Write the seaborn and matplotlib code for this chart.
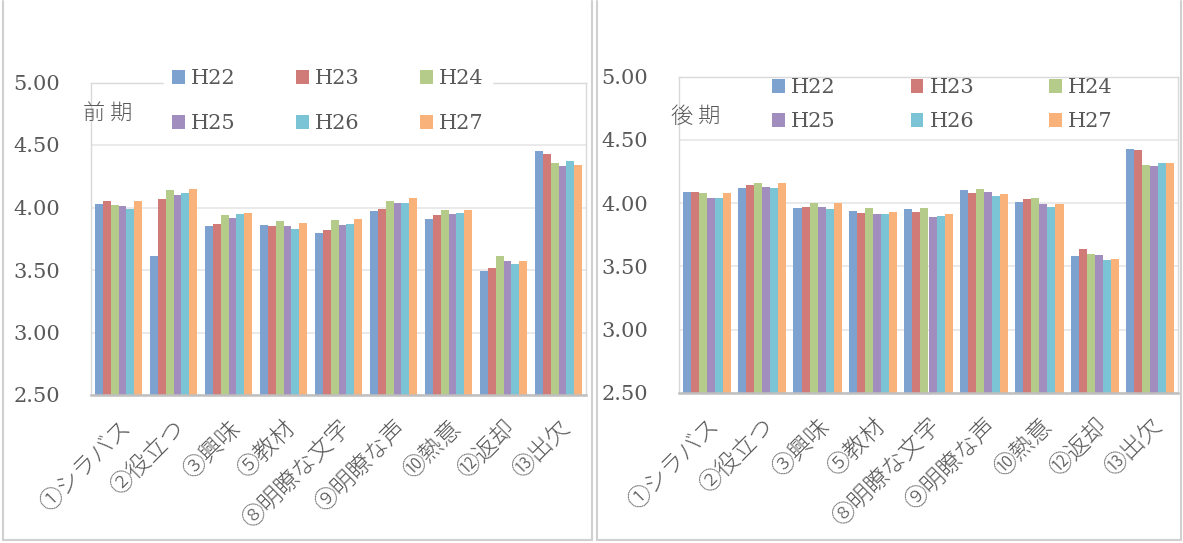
import numpy as np
import pandas as pd
import matplotlib
matplotlib.use("Agg")
import matplotlib.pyplot as plt
from matplotlib.lines import Line2D
import seaborn as sns

# ---- data -------------------------------------------------------------
categories = ["①シラバス", "②役立つ", "③興味", "⑤教材", "⑧明瞭な文字",
              "⑨明瞭な声", "⑩熱意", "⑫返却", "⑬出欠"]
years = ["H22", "H23", "H24", "H25", "H26", "H27"]

# 前期 (first semester)
zenki_h22 = [4.03, 3.61, 3.85, 3.86, 3.80, 3.97, 3.91, 3.49, 4.45]
zenki_h23 = [4.05, 4.07, 3.87, 3.85, 3.82, 3.99, 3.94, 3.52, 4.43]
zenki_h24 = [4.02, 4.14, 3.94, 3.89, 3.90, 4.05, 3.98, 3.61, 4.36]
zenki_h25 = [4.01, 4.10, 3.92, 3.85, 3.86, 4.04, 3.95, 3.57, 4.33]
zenki_h26 = [3.99, 4.12, 3.95, 3.83, 3.87, 4.04, 3.96, 3.55, 4.37]
zenki_h27 = [4.05, 4.15, 3.96, 3.88, 3.91, 4.08, 3.98, 3.57, 4.34]

# 後期 (second semester)
kouki_h22 = [4.09, 4.12, 3.96, 3.94, 3.95, 4.10, 4.01, 3.58, 4.43]
kouki_h23 = [4.09, 4.14, 3.97, 3.92, 3.93, 4.08, 4.03, 3.64, 4.42]
kouki_h24 = [4.08, 4.16, 4.00, 3.96, 3.96, 4.11, 4.04, 3.60, 4.30]
kouki_h25 = [4.04, 4.13, 3.97, 3.91, 3.89, 4.09, 3.99, 3.59, 4.29]
kouki_h26 = [4.04, 4.12, 3.95, 3.91, 3.90, 4.06, 3.97, 3.55, 4.32]
kouki_h27 = [4.08, 4.16, 4.00, 3.93, 3.91, 4.07, 3.99, 3.56, 4.32]

yticks = [2.50, 3.00, 3.50, 4.00, 4.50, 5.00]

palette = ["#7EA2D0", "#D07B78", "#B5CB8A", "#A18DBE", "#7AC4D6", "#F9B27A"]
text_color = "#595959"
grid_color = "#E6E6E6"
frame_color = "#D9D9D9"
axis_color = "#BFBFBF"


def long_frame(series):
    rows = []
    for year, vals in zip(years, series):
        for cat, v in zip(categories, vals):
            rows.append({"項目": cat, "年度": year, "評価": v})
    return pd.DataFrame(rows)


df_zenki = long_frame([zenki_h22, zenki_h23, zenki_h24, zenki_h25, zenki_h26, zenki_h27])
df_kouki = long_frame([kouki_h22, kouki_h23, kouki_h24, kouki_h25, kouki_h26, kouki_h27])

sns.set_theme(style="white")
plt.rcParams["font.family"] = ["DejaVu Serif", "Noto Sans CJK JP"]

W, H = 1183, 543
fig = plt.figure(figsize=(W / 100, H / 100), dpi=100)


def px_axes(x0, x1, ytop, ybot):
    return fig.add_axes([x0 / W, 1 - ybot / H, (x1 - x0) / W, (ybot - ytop) / H])


def draw_panel(ax, df, title, title_xy, leg_anchor, colspacing, rowspacing, leg_frame):
    sns.barplot(data=df, x="項目", y="評価", hue="年度", palette=palette,
                width=0.87, gap=0, saturation=1, linewidth=0, ax=ax, zorder=2)
    ax.set_ylim(2.5, 5.0)
    ax.set_yticks(yticks)
    ax.set_yticklabels([f"{v:.2f}" for v in yticks], fontsize=15,
                       color=text_color, family="DejaVu Serif")
    ax.set_xlabel("")
    ax.set_ylabel("")
    ax.grid(axis="y", color=grid_color, linewidth=1.2, zorder=0)
    ax.set_axisbelow(True)
    for side in ["left", "top", "right"]:
        ax.spines[side].set_color(frame_color)
        ax.spines[side].set_linewidth(1.0)
    ax.spines["bottom"].set_color(axis_color)
    ax.spines["bottom"].set_linewidth(1.8)
    ax.tick_params(axis="y", length=0, pad=22)
    ax.tick_params(axis="x", length=0, pad=15)
    ax.set_xticks(range(len(categories)))
    ax.set_xticklabels(categories, rotation=45, ha="right", va="top",
                       rotation_mode="anchor", fontsize=17, color=text_color,
                       family=["Noto Sans CJK JP", "DejaVu Sans"], fontweight="light")

    handles, labels = ax.get_legend_handles_labels()
    ax.get_legend().remove()
    # legend fills column by column; order so rows read H22 H23 H24 / H25 H26 H27
    order = [0, 3, 1, 4, 2, 5]
    leg = ax.legend([handles[i] for i in order], [labels[i] for i in order],
                    ncol=3, loc="upper left",
                    bbox_to_anchor=(leg_anchor[0] / W, 1 - leg_anchor[1] / H),
                    bbox_transform=fig.transFigure, borderaxespad=0, borderpad=0.4,
                    handlelength=0.6, handleheight=0.6, handletextpad=0.3,
                    columnspacing=colspacing, labelspacing=rowspacing,
                    frameon=leg_frame, fancybox=False,
                    prop={"family": "DejaVu Serif", "size": 15})
    if leg_frame:
        leg.get_frame().set_facecolor("white")
        leg.get_frame().set_edgecolor("white")
        leg.get_frame().set_alpha(1)
    for t in leg.get_texts():
        t.set_color(text_color)

    fig.text(title_xy[0] / W, 1 - title_xy[1] / H, title, fontsize=16,
             color=text_color, ha="left", va="center",
             family=["Noto Sans CJK JP", "DejaVu Sans"], fontweight="light")


ax_l = px_axes(91, 586, 82.5, 395)
draw_panel(ax_l, df_zenki, "前 期", (83, 115), (164, 61), 2.9, 1.25, True)

ax_r = px_axes(679, 1178, 76.5, 393)
draw_panel(ax_r, df_kouki, "後 期", (671, 117), (764, 70), 3.6, 0.72, False)

# outer chart borders
border = "#D0D0D0"
for (x0, x1) in [(3, 592), (597, 1181)]:
    for xs, ys in [([x0, x0], [1, 540]), ([x1, x1], [1, 540]), ([x0, x1], [540, 540])]:
        fig.add_artist(Line2D([x / W for x in xs], [1 - y / H for y in ys],
                              color=border, linewidth=1.5))

fig.savefig("out.png", dpi=100, facecolor="white")
